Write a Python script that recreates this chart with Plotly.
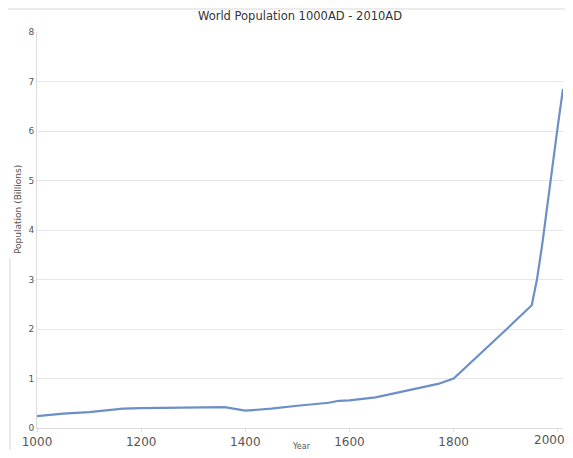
import plotly.graph_objects as go

years = [1000, 1050, 1100, 1165, 1200, 1250, 1300, 1350, 1360, 1400, 1450, 1500,
         1540, 1560, 1580, 1600, 1650, 1700, 1750, 1770, 1800, 1850, 1900, 1950,
         1960, 1970, 1980, 1990, 2000, 2010]
population = [0.24, 0.29, 0.32, 0.39, 0.40, 0.41, 0.42, 0.43, 0.42, 0.35, 0.39, 0.45,
              0.49, 0.51, 0.55, 0.56, 0.62, 0.73, 0.85, 0.89, 1.0, 1.48, 1.98, 2.48,
              3.0, 3.7, 4.45, 5.3, 6.1, 6.85]
x_ticks = [1000, 1200, 1400, 1600, 1800, 2000]
x_tick_labels = ["1000", "1200", "1400", "1600", "1800", "2000"]
y_ticks = [0, 1, 2, 3, 4, 5, 6, 7, 8]

OFF = 8  # browser default body margin; visible area ends ~565px
W, H = 573 - 2 * OFF, 458 - 2 * OFF
L, T = 37 - OFF, 32 - OFF
R = (OFF + W) - 563
B = (OFF + H) - 428
pw, ph = W - L - R, H - T - B


def px(xp):
    return (xp - OFF - L) / pw


def py(yp):
    return (H - B - (yp - OFF)) / ph


# last label is drawn as an annotation nudged left so it stays inside the page edge
tick_text = x_tick_labels[:-1] + [""]

fig = go.Figure()
fig.add_trace(go.Scatter(x=years, y=population, mode="lines",
                         line=dict(color="#6b8fc6", width=2.2), showlegend=False))

fig.update_layout(
    width=W, height=H,
    margin=dict(l=L, r=R, t=T, b=B, autoexpand=False),
    paper_bgcolor="white", plot_bgcolor="white",
    font=dict(family="DejaVu Sans", color="#444"),
    title=dict(text="World Population 1000AD - 2010AD", x=(300 - OFF) / W, xanchor="center",
               y=1 - (16 - OFF) / H, yanchor="middle", font=dict(size=11.5, color="#333")),
    xaxis=dict(range=[1000, 2010], tickvals=x_ticks, ticktext=tick_text,
               showgrid=False, zeroline=False, showline=True, linecolor="#dcdcdc",
               ticks="outside", ticklen=3, tickcolor="#e0e0e0",
               tickfont=dict(size=12, color="#555")),
    yaxis=dict(range=[0, 8], tickvals=y_ticks, showgrid=True, gridcolor="#e6e6e6",
               zeroline=False, showline=True, linecolor="#dcdcdc",
               ticks="", tickfont=dict(size=9, color="#555")),
    annotations=[
        dict(text=x_tick_labels[-1], x=x_ticks[-1], xref="x", y=0, yref="paper",
             xanchor="center", yanchor="middle", xshift=-8, yshift=-12,
             showarrow=False, font=dict(size=12, color="#555")),
        dict(text="Population (Billions)", textangle=-90, x=px(18), y=py(210),
             xanchor="center", yanchor="middle",
             xref="paper", yref="paper", showarrow=False, font=dict(size=9, color="#555")),
        dict(text="Year", x=px(301), y=py(446), xanchor="center", yanchor="middle",
             xref="paper", yref="paper", showarrow=False, font=dict(size=8, color="#555")),
    ],
    shapes=[
        dict(type="line", xref="paper", yref="paper", x0=px(OFF), x1=px(573), y0=py(OFF + 1), y1=py(OFF + 1),
             line=dict(color="#d8d8d8", width=1)),
        dict(type="line", xref="paper", yref="paper", x0=px(OFF + 2), x1=px(OFF + 2), y0=py(258), y1=py(458),
             line=dict(color="#d8d8d8", width=1)),
    ],
)

fig.write_html("out.html")
